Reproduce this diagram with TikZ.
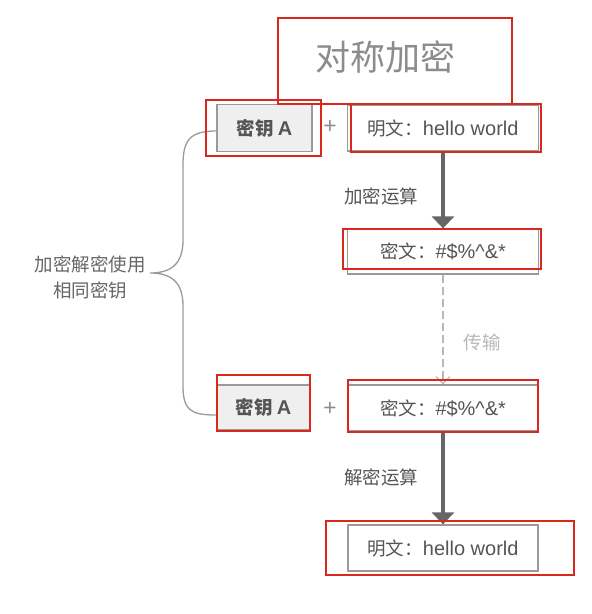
\documentclass[tikz,border=0pt]{standalone}
\usepackage{fontspec}
\setmainfont{Liberation Sans}[Scale=1.08]
\newfontfamily\cjk{Noto Sans CJK SC}
\usetikzlibrary{arrows.meta,calc}

\definecolor{ink}{HTML}{555555}
\definecolor{soft}{HTML}{8C8C8C}
\definecolor{pale}{HTML}{B8B8B8}
\definecolor{boxline}{HTML}{9A9A9A}
\definecolor{keyfill}{HTML}{EFEFEF}
\definecolor{flow}{HTML}{666666}
\definecolor{mark}{HTML}{D9281E}

\tikzset{
  x=1pt, y=-1pt,
  txt/.style={font=\fontsize{18.5}{26}\selectfont, text=ink, inner sep=0pt},
  msgbox/.style={txt, draw=boxline, line width=1.3pt, minimum width=191pt, minimum height=46pt},
  keybox/.style={msgbox, fill=keyfill, minimum width=95pt, font=\fontsize{18.5}{22}\selectfont\bfseries},
  flowarrow/.style={draw=flow, line width=3.5pt, -{Triangle[width=22pt,length=12pt]}},
  sendarrow/.style={draw=pale, line width=1.2pt, dash pattern=on 8pt off 4pt,
                    -{Straight Barb[width=14pt,length=7pt,line width=1.2pt]}},
  bracket/.style={draw=boxline, line width=1.3pt},
  redmark/.style={draw=mark, line width=2pt},
}

\begin{document}
\begin{tikzpicture}
  % canvas
  \fill[white] (0,0) rectangle (592,614);
  \useasboundingbox (0,0) rectangle (592,614);

  % heading
  \node[txt, text=soft, font=\fontsize{35}{40}\selectfont] (title) at (385,57) {\cjk 对称加密};

  % encryption row
  \node[keybox, minimum height=47pt] (k1) at (264.5,128) {\cjk 密钥 \rmfamily A};
  \node[txt, text=soft, font=\fontsize{21}{24}\selectfont] (plus1) at (330,127) {+};
  \node[msgbox] (p1) at (443,128) {{\cjk 明文：}hello world};
  \node[msgbox, minimum height=45pt] (c1) at (443,251.5) {{\cjk 密文：}\#\$\%\textasciicircum\&*};

  % decryption row
  \node[keybox, minimum width=93pt, minimum height=45pt] (k2) at (263.5,407.5) {\cjk 密钥 \rmfamily A};
  \node[txt, text=soft, font=\fontsize{21}{24}\selectfont] (plus2) at (330,409) {+};
  \node[msgbox] (c2) at (443,408) {{\cjk 密文：}\#\$\%\textasciicircum\&*};
  \node[msgbox, minimum width=190pt] (p2) at (443,548) {{\cjk 明文：}hello world};

  % step labels
  \node[txt] (enc) at (381,196) {\cjk 加密运算};
  \node[txt] (dec) at (381,477) {\cjk 解密运算};
  \node[txt, text=pale] (send) at (482,342) {\cjk 传输};

  % flow
  \draw[flowarrow] (p1.south) -- (c1.north);
  \draw[sendarrow] (c1.south) -- (c2.north);
  \draw[flowarrow] (c2.south) -- (p2.north);

  % shared key bracket
  \node[txt, text=flow, align=center] (same) at (90,277) {\cjk 加密解密使用\\\cjk 相同密钥};
  \coordinate (tip) at (150,273);
  \draw[bracket] ($(k1.west)+(0,3)$) .. controls (190,131) and (183,140) .. (183,165)
    -- (183,240) .. controls (183,265) and (170,273) .. (tip)
    .. controls (170,273) and (183,281) .. (183,306)
    -- (183,385) .. controls (183,410) and (190,415) .. ($(k2.west)+(0,7.5)$);

  % highlight frames
  \draw[redmark] (278,18) rectangle (512,104);
  \draw[redmark] (206,100) rectangle (321,156);
  \draw[redmark] (351,104) rectangle (541,152);
  \draw[redmark] (343,229) rectangle (541,269);
  \draw[redmark] (217,375) rectangle (310,431);
  \draw[redmark] (348,380) rectangle (538,432);
  \draw[redmark] (326,521) rectangle (574,575);
\end{tikzpicture}
\end{document}
